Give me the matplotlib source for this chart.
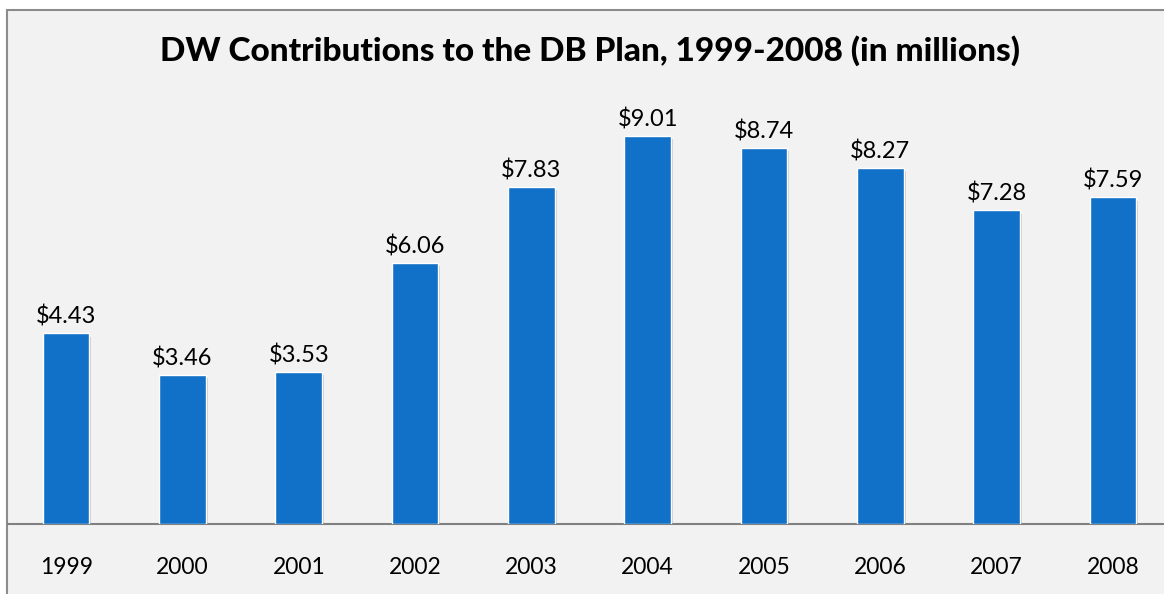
import matplotlib.pyplot as plt
import matplotlib.patheffects as pe
from matplotlib.patches import Rectangle

years = ['1999', '2000', '2001', '2002', '2003', '2004', '2005', '2006', '2007', '2008']
contrib = [4.43, 3.46, 3.53, 6.06, 7.83, 9.01, 8.74, 8.27, 7.28, 7.59]

BAR_COLOR = '#1170C7'
BG = '#F2F2F2'

plt.rcParams['font.family'] = ['Lato', 'DejaVu Sans']

fig = plt.figure(figsize=(11.64, 5.94), dpi=100)
fig.patch.set_facecolor('white')

# panel background with a gray frame on the top and left
frame = Rectangle((7 / 1164, -0.05), 1.1, (594 - 10) / 594 + 0.05,
                  transform=fig.transFigure, facecolor=BG,
                  edgecolor='#8C8C8C', linewidth=1.5, zorder=-10)
fig.patches.append(frame)

ax = fig.add_axes([8 / 1164, (594 - 524) / 594, 1163 / 1164, 0.725])
ax.set_facecolor('none')
ax.set_zorder(1)

x = range(len(years))
bars = ax.bar(x, contrib, width=0.4, color=BAR_COLOR, edgecolor='white',
              linewidth=1.0, zorder=3)
for b in bars:
    b.set_path_effects([pe.SimplePatchShadow(offset=(1.5, -2.5), shadow_rgbFace='#7F7F7F',
                                             alpha=0.35),
                        pe.Normal()])

for xi, v in zip(x, contrib):
    ax.annotate('${:.2f}'.format(v), (xi, v), xytext=(0, 4), textcoords='offset points',
                ha='center', va='bottom', fontsize=17, color='black')

ax.set_xlim(-0.5, len(years) - 0.5)
ax.set_ylim(0, 10)
ax.set_xticks(list(x))
ax.set_xticklabels(years, fontsize=16.5)
ax.tick_params(axis='x', length=0, pad=24)
ax.set_yticks([])

for side in ['top', 'right', 'left']:
    ax.spines[side].set_visible(False)
ax.spines['bottom'].set_color('#808080')
ax.spines['bottom'].set_linewidth(1.5)

fig.text(590 / 1164, 1 - 51 / 594, 'DW Contributions to the DB Plan, 1999-2008 (in millions)',
         ha='center', va='center', fontsize=24, fontweight='black')

fig.savefig('out.png', dpi=100)
